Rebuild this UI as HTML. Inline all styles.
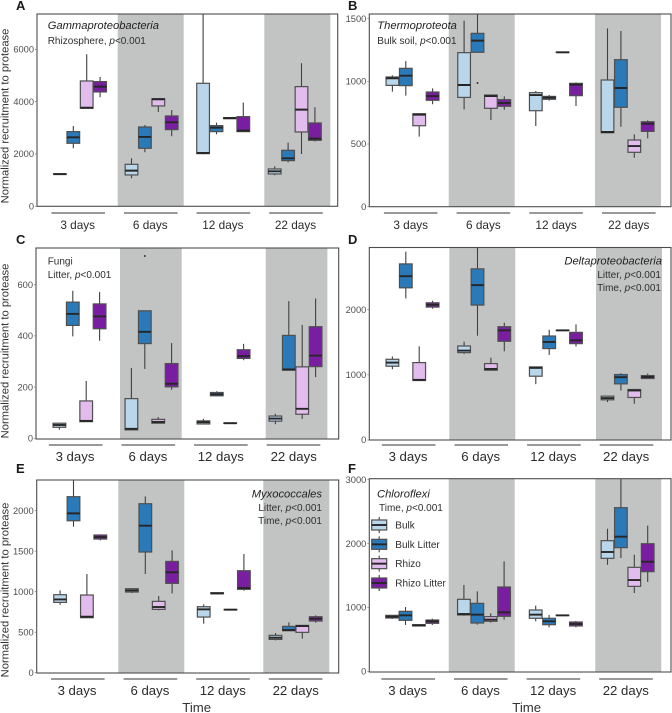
<!DOCTYPE html>
<html lang="en">
<head>
<meta charset="utf-8">
<title>Normalized recruitment to protease</title>
<style>
html,body{margin:0;padding:0;background:#fff;}
#chart{display:block;width:672px;height:713px;font-family:"Liberation Sans",sans-serif;}
.letter{font-size:13px;font-weight:bold;fill:#1a1a1a;}
.title{font-size:11.2px;font-style:italic;fill:#1f1f1f;}
.ann{font-size:10px;fill:#2e2e2e;}
.ytitle{font-size:11.2px;fill:#333;text-anchor:middle;}
.xtitle{font-size:13.2px;fill:#333;text-anchor:middle;}
.leg{font-size:10px;fill:#2e2e2e;}
</style>
</head>
<body>
<svg id="chart" xmlns="http://www.w3.org/2000/svg" width="672" height="713" viewBox="0 0 672 713">
  <g id="bands"></g>
  <g id="marks"></g>
  <g id="axes"></g>

  <g>
    <text class="letter" x="16" y="10">A</text>
    <text class="letter" x="348" y="10">B</text>
    <text class="letter" x="16" y="244">C</text>
    <text class="letter" x="348" y="244">D</text>
    <text class="letter" x="16" y="473">E</text>
    <text class="letter" x="348" y="473">F</text>
  </g>

  <g>
    <text class="ytitle" transform="translate(8.5,116) rotate(-90)">Normalized recruitment to protease</text>
    <text class="ytitle" transform="translate(8.5,351) rotate(-90)">Normalized recruitment to protease</text>
    <text class="ytitle" transform="translate(8.5,590) rotate(-90)">Normalized recruitment to protease</text>
  </g>
  <text class="xtitle" x="196.7" y="712">Time</text>
  <text class="xtitle" x="526.7" y="712">Time</text>

  <g>
    <text class="title" x="47.7" y="29">Gammaproteobacteria</text>
    <text class="ann" x="47.7" y="44">Rhizosphere, <tspan font-style="italic">p</tspan>&lt;0.001</text>
  </g>
  <g>
    <text class="title" x="377.3" y="29">Thermoproteota</text>
    <text class="ann" x="377.3" y="44">Bulk soil, <tspan font-style="italic">p</tspan>&lt;0.001</text>
  </g>
  <g>
    <text class="ann" x="47.7" y="264.7">Fungi</text>
    <text class="ann" x="47.7" y="278">Litter, <tspan font-style="italic">p</tspan>&lt;0.001</text>
  </g>
  <g text-anchor="end">
    <text class="title" x="662" y="264.7">Deltaproteobacteria</text>
    <text class="ann" x="661" y="278">Litter, <tspan font-style="italic">p</tspan>&lt;0.001</text>
    <text class="ann" x="661" y="291">Time, <tspan font-style="italic">p</tspan>&lt;0.001</text>
  </g>
  <g text-anchor="end">
    <text class="title" x="322" y="497.7">Myxococcales</text>
    <text class="ann" x="322" y="511">Litter, <tspan font-style="italic">p</tspan>&lt;0.001</text>
    <text class="ann" x="322" y="524">Time, <tspan font-style="italic">p</tspan>&lt;0.001</text>
  </g>
  <g>
    <text class="title" x="377" y="497.7">Chloroflexi</text>
    <text class="ann" x="379" y="511">Time, <tspan font-style="italic">p</tspan>&lt;0.001</text>
  </g>

  <g id="legend"></g>
</svg>

<script>
// ---- Chart data (each box: [lower whisker, Q1, median, Q3, upper whisker]) ----
const timeLabels = ['3 days', '6 days', '12 days', '22 days'];
const seriesNames = ['Bulk', 'Bulk Litter', 'Rhizo', 'Rhizo Litter'];

const ticksA = [0, 2000, 4000, 6000];
const ticksB = [0, 500, 1000, 1500];
const ticksC = [0, 200, 400, 600];
const ticksD = [0, 1000, 2000];
const ticksE = [0, 500, 1000, 1500, 2000];
const ticksF = [0, 1000, 2000, 3000];

const gammaproteobacteria = [
  [[1210,1220,1230,1240,1250],[2217,2408,2637,2854,3070],[3745,3745,3770,4790,5810],[4166,4370,4574,4765,4943]],
  [[1070,1198,1363,1605,1835],[2064,2217,2650,3032,3108],[3605,3835,4090,4115,4115],[2675,2930,3210,3452,3682]],
  [[1987,2013,2038,4701,10000],[2752,2854,3007,3083,3198],[3340,3350,3370,3390,3400],[2854,2854,2892,3427,3962]],
  [[1185,1236,1338,1427,1529],[1682,1745,1835,2140,2433],[2000,2841,3695,4574,5465],[2472,2522,2586,3185,3784]]
];
const thermoproteota = [
  [[918,968,1024,1035,1048],[886,966,1045,1104,1162],[559,646,734,742,742],[817,849,883,915,944]],
  [[777,872,971,1229,1484],[1232,1232,1325,1383,1700],[692,785,883,891,891],[774,801,827,854,880]],
  [[644,766,891,910,923],[846,857,870,880,891],[1228,1230,1232,1234,1236],[803,886,974,984,992]],
  [[590,590,596,1011,1423],[638,793,947,1173,1402],[391,434,484,532,577],[545,601,662,678,689]]
];
const fungi = [
  [[34,43,52,59,59],[398,441,486,532,576],[65,65,68,146,224],[381,428,476,525,572]],
  [[33,33,37,155,275],[271,370,416,498,498],[59,59,64,74,83],[190,201,213,292,372]],
  [[56,56,63,68,76],[164,166,172,179,184],[57,58,59,60,61],[305,312,321,346,369]],
  [[55,67,77,87,96],[266,266,269,402,536],[76,94,115,279,443],[239,280,323,436,546]]
];
const deltaproteobacteria = [
  [[1086,1132,1188,1239,1280],[2173,2336,2514,2703,2892],[913,913,923,1188,1438],[2015,2040,2076,2106,2137]],
  [[1321,1341,1372,1443,1510],[1601,2071,2377,2627,3300],[1071,1071,1091,1173,1265],[1362,1515,1683,1739,1800]],
  [[857,979,1107,1122,1122],[1306,1403,1505,1596,1693],[1675,1680,1683,1686,1690],[1433,1479,1530,1652,1775]],
  [[581,617,643,673,678],[760,862,964,1005,1025],[556,653,760,775,785],[944,944,969,989,1020]]
];
const myxococcales = [
  [[839,868,905,963,1016],[1802,1876,1967,2173,2600],[675,679,691,959,1218],[1634,1650,1675,1700,1708]],
  [[983,996,1016,1037,1037],[1218,1490,1815,2086,2177],[770,782,811,881,946],[979,1103,1239,1374,1510]],
  [[605,687,782,815,844],[967,975,979,988,992],[772,775,778,781,784],[1012,1029,1045,1259,1465]],
  [[399,411,432,461,490],[518,518,527,572,621],[420,498,576,584,584],[617,638,667,691,708]]
];
const chloroflexi = [
  [[819,835,856,876,876],[725,798,876,939,1007],[704,710,720,730,730],[725,751,783,803,824]],
  [[871,882,897,1127,1351],[730,756,887,1064,1252],[762,783,809,856,908],[809,861,923,1320,1722]],
  [[783,830,887,960,1028],[689,730,783,830,882],[870,873,876,879,882],[689,710,741,772,788]],
  [[1669,1769,1868,2045,2233],[1774,1936,2108,2562,3200],[1226,1330,1429,1628,1826],[1398,1560,1716,1998,2280]]
];

// Outliers: [time index, series index, value]
const outliersB = [[1, 1, 987]];
const outliersC = [[1, 1, 712]];

// ---- Styling and panel geometry ----
const seriesColors = ['#b9d6ea', '#2a7ab9', '#e3bcee', '#7a1ea1'];
const SVGNS = 'http://www.w3.org/2000/svg';
const bandsLayer = document.getElementById('bands');
const marksLayer = document.getElementById('marks');
const axesLayer = document.getElementById('axes');
const legendLayer = document.getElementById('legend');

function mk(tag, parent, attrs) {
  const el = document.createElementNS(SVGNS, tag);
  for (const k in attrs) el.setAttribute(k, attrs[k]);
  parent.appendChild(el);
  return el;
}

const panels = [
  {id:'a', data:gammaproteobacteria, ticks:ticksA, outliers:[], left:37, right:337.7, top:14, bottom:206.3,
   y0:206.3, yRefVal:6000, yRefPx:49.3, boxX:80, boxStep:71.6, bandX:[117.7,264.3], bandW:66,
   ruleX:78.2, ruleStep:72.6, ruleY:213, labelX:77.7, labelStep:72.6, labelY:229, labelSize:11.8},
  {id:'b', data:thermoproteota, ticks:ticksB, outliers:outliersB, left:369.3, right:671, top:14, bottom:206.7,
   y0:206.7, yRefVal:1500, yRefPx:18.7, boxX:412.5, boxStep:71.7, bandX:[448.7,595], bandW:66,
   ruleX:410.7, ruleStep:72.7, ruleY:213, labelX:410.7, labelStep:72.7, labelY:229, labelSize:11.8},
  {id:'c', data:fungi, ticks:ticksC, outliers:outliersC, left:36, right:338.7, top:248, bottom:439,
   y0:438.3, yRefVal:600, yRefPx:284.7, boxX:79.5, boxStep:72, bandX:[120,265.7], bandW:61.7,
   ruleX:75.7, ruleStep:72.6, ruleY:445, labelX:75, labelStep:72.9, labelY:461, labelSize:13.2},
  {id:'d', data:deltaproteobacteria, ticks:ticksD, outliers:[], left:369.3, right:671, top:247.5, bottom:440,
   y0:440, yRefVal:2000, yRefPx:309.7, boxX:412.5, boxStep:71.7, bandX:[449.3,596], bandW:66,
   ruleX:408.7, ruleStep:72.6, ruleY:445, labelX:408, labelStep:72.7, labelY:461, labelSize:13.2},
  {id:'e', data:myxococcales, ticks:ticksE, outliers:[], left:36.7, right:338.7, top:480, bottom:673,
   y0:672.7, yRefVal:2000, yRefPx:510.7, boxX:80.2, boxStep:71.8, bandX:[118.3,263.3], bandW:66,
   ruleX:77.8, ruleStep:72.6, ruleY:679, labelX:77, labelStep:72.9, labelY:695, labelSize:13.2},
  {id:'f', data:chloroflexi, ticks:ticksF, outliers:[], left:369.3, right:671, top:478.7, bottom:672,
   y0:671.3, yRefVal:3000, yRefPx:479.7, boxX:412.2, boxStep:71.8, bandX:[448.7,595.3], bandW:66,
   ruleX:408.2, ruleStep:72.6, ruleY:679, labelX:407.7, labelStep:72.7, labelY:695, labelSize:13.2}
];

const BOX_W = 12.7;
const BOX_GAP = 13.4;

function drawBox(parent, cx, w, yOf, stats, color, clip, name) {
  const g = mk('g', parent, clip ? {'clip-path':'url(#' + clip + ')'} : {});
  
  
  const whisker = mk('line', g, {x1:cx, x2:cx, y1:yOf(stats[0]), y2:yOf(stats[4]), stroke:'#404040', 'stroke-width':1.1});
  
  
  const yq3 = yOf(stats[3]);
  const yq1 = yOf(stats[1]);
  const box = mk('rect', g, {x:cx - w / 2, y:yq3, width:w, height:Math.max(yq1 - yq3, 0.2), fill:color, stroke:'#4f4f4f', 'stroke-width':1.2});
  
  
  const ym = yOf(stats[2]);
  const median = mk('line', g, {x1:cx - w / 2, x2:cx + w / 2, y1:ym, y2:ym, stroke:'#262626', 'stroke-width':1.9});
  
  
}

const defs = mk('defs', document.getElementById('chart'), {});

panels.forEach(function (p) {
  const k = (p.y0 - p.yRefPx) / p.yRefVal;
  const yScale = function (v) { return p.y0 - v * k; };
  const xScale = function (t, s) { return p.boxX + p.boxStep * t + (s - 1.5) * BOX_GAP; };

  // clip to panel frame
  const clipId = 'clip-' + p.id;
  const cp = mk('clipPath', defs, {id:clipId});
  mk('rect', cp, {x:p.left, y:p.top, width:p.right - p.left, height:p.bottom - p.top});

  // shaded time bands
  p.bandX.forEach(function (bx) {
    const band = mk('rect', bandsLayer, {x:bx, y:p.top, width:p.bandW, height:p.bottom - p.top, fill:'#c2c4c3'});
    
    
  });

  // boxes
  p.data.forEach(function (group, t) {
    group.forEach(function (stats, s) {
      drawBox(marksLayer, xScale(t, s), BOX_W, yScale, stats, seriesColors[s], clipId,
        'box-' + p.id + '-' + timeLabels[t].replace(' ', '-') + '-' + seriesNames[s].toLowerCase().replace(' ', '-'));
    });
  });

  // outliers
  p.outliers.forEach(function (o) {
    const dot = mk('circle', marksLayer, {cx:xScale(o[0], o[1]), cy:yScale(o[2]), r:1, fill:'#333'});
    
    
  });

  // frame
  const frame = mk('rect', axesLayer, {x:p.left, y:p.top, width:p.right - p.left, height:p.bottom - p.top, fill:'none', stroke:'#4d4d4d', 'stroke-width':1.1});
  
  

  // y ticks
  p.ticks.forEach(function (tv) {
    const ty = yScale(tv);
    const tick = mk('line', axesLayer, {x1:p.left - 2, x2:p.left, y1:ty, y2:ty, stroke:'#777', 'stroke-width':0.7});
    
    
    const lbl = mk('text', axesLayer, {x:p.left - 3, y:ty + 3.2, 'text-anchor':'end', 'font-size':'9.3', fill:'#4d4d4d'});
    
    
    lbl.textContent = tv;
  });

  // time rules and labels
  timeLabels.forEach(function (name, t) {
    const rx = p.ruleX + p.ruleStep * t;
    const rule = mk('line', axesLayer, {x1:rx - 26.8, x2:rx + 26.8, y1:p.ruleY, y2:p.ruleY, stroke:'#333', 'stroke-width':1});
    
    
    const lbl = mk('text', axesLayer, {x:p.labelX + p.labelStep * t, y:p.labelY, 'text-anchor':'middle', 'font-size':p.labelSize, fill:'#2b2b2b'});
    
    
    lbl.textContent = name;
  });
});

// legend
seriesNames.forEach(function (name, s) {
  const cy = 525 + s * 19.33;
  const keyScale = function (v) { return cy - v; };
  drawBox(legendLayer, 379.2, 15, keyScale, [-8, -5, 0, 5, 8], seriesColors[s], null, 'legend-key-' + name.toLowerCase().replace(' ', '-'));
  const label = mk('text', legendLayer, {x:395.3, y:cy + 3.5, class:'leg'});
  
  
  label.textContent = name;
});
</script>
</body>
</html>
